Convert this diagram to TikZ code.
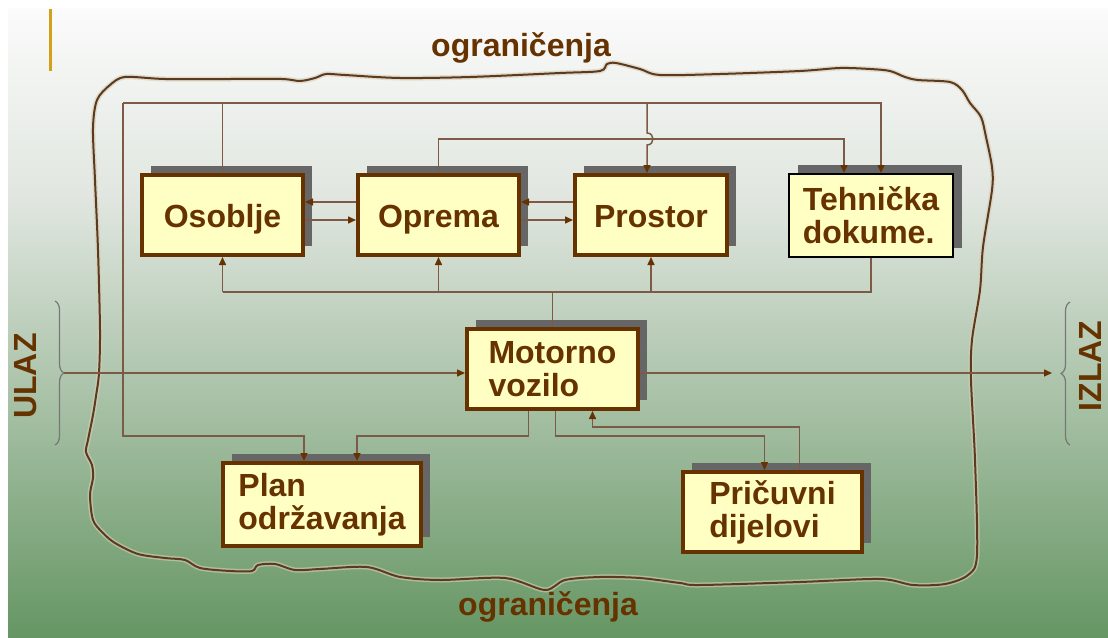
\documentclass[tikz,border=0pt]{standalone}
\usepackage{fontspec}
\setmainfont{Liberation Sans}
\usetikzlibrary{arrows.meta,shadows,decorations.pathreplacing}
\definecolor{brn}{HTML}{663300}
\definecolor{lnk}{HTML}{7D5A45}
\definecolor{boxfill}{HTML}{FFFFC4}
\definecolor{shgray}{HTML}{666666}
\definecolor{gold}{HTML}{D4A017}
\definecolor{bgA}{HTML}{FBFBFB}
\definecolor{bgB}{HTML}{E0E6DF}
\definecolor{bgC}{HTML}{669664}
\definecolor{rim}{HTML}{5C3A1E}
\definecolor{rimglow}{HTML}{D8CDB8}
\definecolor{brace}{HTML}{777777}
\tikzset{
	blok/.style={draw=brn,line width=4pt,fill=boxfill,text=brn,align=left,inner sep=0pt,
		font=\fontsize{32}{33}\selectfont\bfseries,
		drop shadow={shadow xshift=9pt,shadow yshift=9pt,fill=shgray,opacity=1}},
	oneline/.style={text height=24pt,text depth=0pt},
	link/.style={draw=lnk,line width=1.5pt},
	arr/.style={-{Triangle[length=8pt,width=7pt,color=brn]}},
	lbl/.style={text=brn,inner sep=0pt,font=\fontsize{32}{33}\selectfont\bfseries}
}

\begin{document}
\begin{tikzpicture}[x=1pt,y=-1pt]
	\useasboundingbox (0,0) rectangle (1108,637);
	\fill[white] (0,0) rectangle (1108,637);
	\shade[top color=bgA,bottom color=bgB] (8,8) rectangle (1108,200);
	\shade[top color=bgB,bottom color=bgC] (8,200) rectangle (1108,637);
	\draw[gold,line width=3pt] (50,9) -- (50,71);

	\draw[rim,line width=2pt,preaction={draw=rimglow,line width=5pt,opacity=.6}]
		plot[smooth cycle] coordinates {(93,128) (97,100) (110,85) (125,77) (165,79) (230,79)
		(282,79) (300,81) (315,78) (326,74) (345,75) (400,78) (470,77) (560,73) (600,71)
		(607,64) (616,63) (640,69) (660,75) (720,74) (800,71) (840,68) (870,69) (890,71)
		(905,77) (918,80) (950,82) (962,90) (970,103) (981,117) (986,137) (992,167) (992,190)
		(983,247) (980,290) (972,340) (971,380) (975,460) (977,555) (968,575) (945,584)
		(913,585) (880,579) (800,582) (700,585) (680,583) (640,578) (600,577) (565,580)
		(545,590) (505,578) (440,580) (400,577) (367,567) (320,569) (295,570) (275,564)
		(258,565) (252,571) (230,571) (200,568) (185,560) (165,558) (138,554) (115,543)
		(103,533) (93,520) (90,495) (93,478) (92,465) (86,452) (88,440) (93,415) (96,396)
		(99,373) (100,330) (98,250) (95,180)};

	\node[lbl] (ogrTop) at (521,48) {ograničenja};
	\node[lbl] (ogrBot) at (548,607) {ograničenja};
	\node[lbl,rotate=90] (ulaz) at (26,376) {ULAZ};
	\node[lbl,rotate=90] (izlaz) at (1090,366) {IZLAZ};
	\draw[brace,line width=1.2pt,decorate,decoration={brace,amplitude=9pt}] (55,301) -- (55,445);
	\draw[brace,line width=1.2pt,decorate,decoration={brace,amplitude=9pt}] (1070,445) -- (1070,302);

	\node[blok,oneline,minimum width=161,minimum height=80] (osoblje) at (222.5,215) {Osoblje};
	\node[blok,oneline,minimum width=161,minimum height=80] (oprema) at (438.5,215) {Oprema};
	\node[blok,oneline,minimum width=152,minimum height=80] (prostor) at (651,215) {Prostor};
	\node[blok,draw=black,line width=2pt,minimum width=164,minimum height=83] (tehnicka) at (871,215.5) {Tehnička\\dokume.};
	\node[blok,minimum width=171,minimum height=80] (motorno) at (552.5,369) {Motorno\\vozilo};
	\node[blok,minimum width=198,minimum height=83] (plan) at (322,504.5) {Plan\\održavanja};
	\node[blok,minimum width=179,minimum height=80] (pricuvni) at (772.5,512) {Pričuvni\\dijelovi};

	\coordinate (topL) at (123,103);
	\coordinate (topR) at (881,103);
	\coordinate (jmp) at (647,103);
	\coordinate (midR) at (844,139);
	\coordinate (botL) at (222.5,292);
	\coordinate (inTip) at (64,373);
	\coordinate (outTip) at (1052,373);

	\draw[link] (osoblje.north) -- (osoblje.north |- topL);
	\draw[link,arr] (topL) -- (topR) -- (topR |- tehnicka.north);
	\draw[link,arr] (topL) -- (123,436) -| ([xshift=-18pt]plan.north);
	\draw[link,arr] (jmp) -- (647,133) .. controls (655,133) and (655,145) .. (647,145) -- ([xshift=-4pt]prostor.north);
	\draw[link,arr] (oprema.north) |- (midR) -- ([xshift=-27pt]tehnicka.north);

	\draw[link,arr] ([yshift=13pt]oprema.west) -- ([yshift=13pt]osoblje.east);
	\draw[link,arr] ([yshift=-5pt]osoblje.east) -- ([yshift=-5pt]oprema.west);
	\draw[link,arr] ([yshift=13pt]prostor.west) -- ([yshift=13pt]oprema.east);
	\draw[link,arr] ([yshift=-5pt]oprema.east) -- ([yshift=-5pt]prostor.west);

	\draw[link] (tehnicka.south) |- (botL);
	\draw[link,arr] (botL) -- (osoblje.south);
	\draw[link,arr] (oprema.south |- botL) -- (oprema.south);
	\draw[link,arr] (prostor.south |- botL) -- (prostor.south);
	\draw[link] (motorno.north) -- (motorno.north |- botL);

	\draw[link,arr] ([xshift=-24pt]motorno.south) -- ++(0,25) -| ([xshift=35pt]plan.north);
	\draw[link,arr] ([xshift=3pt]motorno.south) -- ++(0,25) -| ([xshift=-8pt]pricuvni.north);
	\draw[link,arr] ([xshift=27pt]pricuvni.north) -- ++(0,-43) -| ([xshift=40pt]motorno.south);

	\draw[link,arr] (inTip) -- (motorno.west |- inTip);
	\draw[link,arr] (motorno.east |- outTip) -- (outTip);
\end{tikzpicture}
\end{document}
